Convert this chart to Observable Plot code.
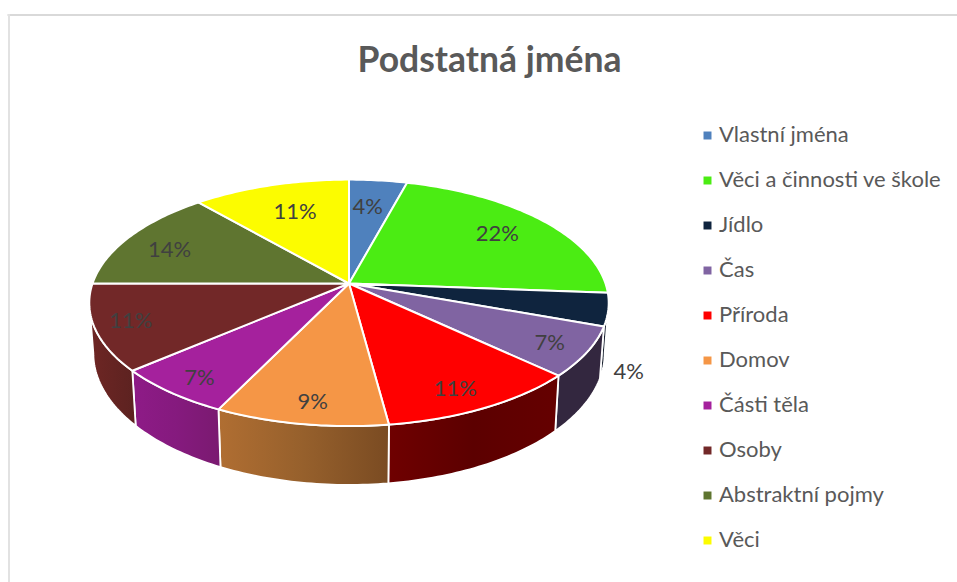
<!DOCTYPE html>
<html lang="cs">
<head>
<meta charset="utf-8">
<title>Podstatná jména</title>
<style>html,body{margin:0;padding:0;background:#fff;overflow:hidden}svg{display:block}</style>
<script src="https://cdn.jsdelivr.net/npm/d3@7"></script>
<script src="https://cdn.jsdelivr.net/npm/@observablehq/plot@0.6"></script>
</head>
<body>
<div id="chart"></div>
<script>
const title = "Podstatná jména";
const categories = ["Vlastní jména","Věci a činnosti ve škole","Jídlo","Čas","Příroda","Domov","Části těla","Osoby","Abstraktní pojmy","Věci"];
const values = [4.2,22,4.3,6.5,10.9,9.3,6.5,11.3,13.6,11.4];
const colors = ["#4F81BD","#4BEC13","#0F243E","#8064A2","#FF0000","#F59646","#A5219D","#722828","#5F7530","#FCFC00"];

// Layout of the perspective pie
const W = 957, H = 582, FONT = "Lato, Carlito, sans-serif";
const top3d = {cx:348.5, cy:283, rx:256.5, ry:120.2, k:0.157};
const bottom3d = {cx:348.5, cy:332, rx:252.5, ry:128.5, k:0.157};
const labelRadius = [0.71,0.757,1.18,0.86,0.855,0.863,0.87,0.864,0.789,0.70];
const labelTurn = [-1,0,22,1,2,-1,-1,0,-2.5,1.2];
const legendX = 707, legendTextX = 718.5, legendTop = 135, legendStep = 45;
const sideFrom = 99, sideTo = 261;
const sideFills = [null,null,"#1a2230","#33273F","url(#sideRed)","url(#sideOrange)","url(#sidePurple)","url(#sideBrown)",null,null];
const gradients = {
  sideRed:["#6F0000","#5C0000","#650000"],
  sideOrange:["#B06E32","#96602C","#7A4B22"],
  sidePurple:["#8E1B87","#851A7E","#7A1A70"],
  sideBrown:["#6E2624","#652422","#5C2220"]
};

const total = d3.sum(values);
const cumulative = d3.cumsum(values);
const bounds = values.map((v,i)=>({
  name:categories[i],
  a0:(cumulative[i]-v)/total*360,
  a1:cumulative[i]/total*360
}));

function project(p, deg, r=1){
  const t = deg*Math.PI/180, u = r*Math.sin(t), v = r*Math.cos(t), w = 1+p.k*v;
  return {x:p.cx+p.rx*u/w, y:p.cy-p.ry*v/w};
}
function arc(p, a0, a1){
  const n = Math.max(2, Math.ceil(Math.abs(a1-a0))), out = [];
  for(let j=0;j<=n;j++) out.push(project(p,a0+(a1-a0)*j/n));
  return out;
}
const topFaces = bounds.flatMap(b=>{
  const c = project(top3d,0,0);
  return [c,...arc(top3d,b.a0,b.a1),c].map(q=>({...q,name:b.name}));
});
function sidePolygon(b){
  const a0 = Math.max(b.a0,sideFrom), a1 = Math.min(b.a1,sideTo);
  if(a1<=a0) return [];
  const t = arc(top3d,a0,a1), l = arc(bottom3d,a1,a0);
  return [...t,...l,t[0]];
}
const labels = bounds.map((b,i)=>{
  const q = project(top3d,(b.a0+b.a1)/2+labelTurn[i],labelRadius[i]);
  return {...q,text:`${Math.round(values[i])}%`};
});
const legend = categories.map((name,i)=>({name,y:legendTop+i*legendStep}));

function defsMark(){
  const defs = d3.create("svg:defs");
  for(const [id,stops] of Object.entries(gradients)){
    const g = defs.append("linearGradient").attr("id",id).attr("x1","0%").attr("x2","100%").attr("y1","0%").attr("y2","0%");
    stops.forEach((c,i)=>g.append("stop").attr("offset",`${i/(stops.length-1)*100}%`).attr("stop-color",c));
  }
  return defs.node();
}

const chart = Plot.plot({
  width:W, height:H, margin:0,
  x:{domain:[0,W],range:[0,W],axis:null},
  y:{domain:[0,H],range:[0,H],axis:null},
  color:{type:"ordinal",domain:categories,range:colors},
  style:{background:"#fff"},
  marks:[
    defsMark,
    Plot.ruleY([14.5],{x1:7.5,x2:W,stroke:"#d9d9d9",strokeWidth:2}),
    Plot.ruleX([8.5],{y1:14,y2:H,stroke:"#e2e2e2",strokeWidth:2}),
    ...bounds.map((b,i)=>sideFills[i]?Plot.line(sidePolygon(b),{x:"x",y:"y",fill:sideFills[i],stroke:"#fff",strokeWidth:1.8}):null).filter(Boolean),
    Plot.line(topFaces,{x:"x",y:"y",z:"name",fill:"name",stroke:"#fff",strokeWidth:2}),
    Plot.text(labels,{x:"x",y:"y",text:"text",fontFamily:FONT,fontSize:22,fill:"#404040",textAnchor:"middle",lineAnchor:"middle"}),
    Plot.text([title],{x:489,y:60,text:d=>d,fontFamily:FONT,fontWeight:"bold",fontSize:35.5,fill:"#595959",textAnchor:"middle",lineAnchor:"middle"}),
    Plot.dot(legend,{x:legendX,y:"y",symbol:"square",r:4.5,fill:"name",stroke:"none"}),
    Plot.text(legend,{x:legendTextX,y:"y",dy:-1,text:"name",fontFamily:FONT,fontSize:22,fill:"#595959",textAnchor:"start",lineAnchor:"middle"})
  ]
});
document.getElementById("chart").append(chart);
</script>
</body>
</html>
